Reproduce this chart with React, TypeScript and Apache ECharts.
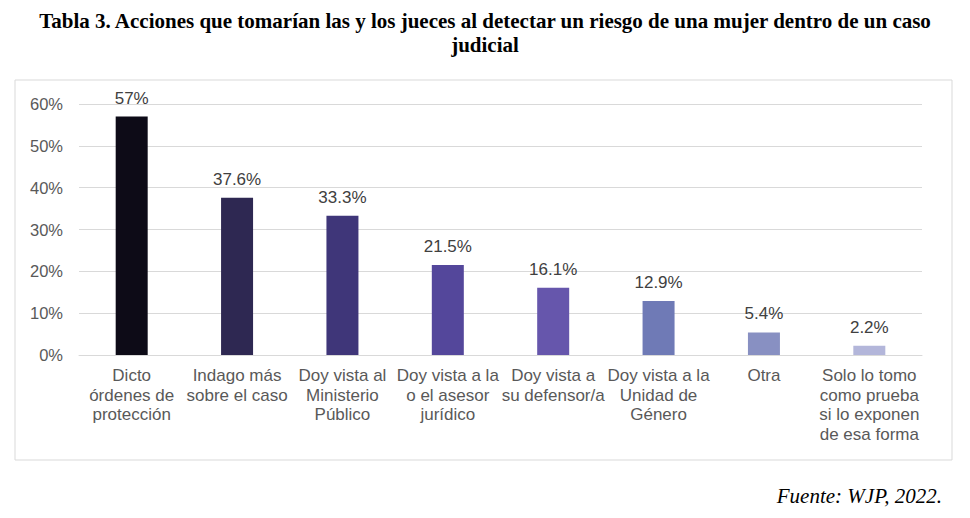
import React, { useEffect, useRef } from "react";
import * as echarts from "echarts";

const titleLines = [
  "Tabla 3. Acciones que tomarían las y los jueces al detectar un riesgo de una mujer dentro de un caso",
  "judicial",
];
const sourceText = "Fuente: WJP, 2022.";
const categories = [
  "Dicto\nórdenes de\nprotección",
  "Indago más\nsobre el caso",
  "Doy vista al\nMinisterio\nPúblico",
  "Doy vista a la\no el asesor\njurídico",
  "Doy vista a\nsu defensor/a",
  "Doy vista a la\nUnidad de\nGénero",
  "Otra",
  "Solo lo tomo\ncomo prueba\nsi lo exponen\nde esa forma",
];
const values = [57, 37.6, 33.3, 21.5, 16.1, 12.9, 5.4, 2.2];
const valueLabels = ["57%", "37.6%", "33.3%", "21.5%", "16.1%", "12.9%", "5.4%", "2.2%"];
const barColors = ["#0d0b17", "#2e2852", "#3f3679", "#54479b", "#6656ac", "#6f7ab6", "#8890c2", "#b3b6da"];

export default function App() {
  const ref = useRef<HTMLDivElement>(null);
  useEffect(() => {
    const chart = echarts.init(ref.current!, null, { renderer: "svg" });
    chart.setOption({
      animation: false,
      backgroundColor: "#ffffff",
      title: {
        text: titleLines.join("\n"),
        left: "center",
        top: 4,
        textStyle: {
          fontFamily: "Liberation Serif",
          fontWeight: "bold",
          fontSize: 21,
          lineHeight: 24,
          color: "#000000",
        },
      },
      graphic: [
        {
          type: "rect",
          shape: { x: 15, y: 80, width: 937, height: 380 },
          style: { fill: "none", stroke: "#d9d9d9", lineWidth: 1 },
          silent: true,
        },
        {
          type: "text",
          right: 28,
          top: 485,
          style: {
            text: sourceText,
            font: "italic 21px 'Liberation Serif'",
            fill: "#000000",
          },
        },
      ],
      grid: { left: 79, right: 48, top: 104, bottom: 163 },
      xAxis: {
        type: "category",
        data: categories,
        axisLine: { lineStyle: { color: "#d9d9d9" } },
        axisTick: { show: false },
        axisLabel: {
          interval: 0,
          fontFamily: "Liberation Sans",
          fontSize: 17,
          lineHeight: 19.5,
          color: "#595959",
          margin: 11,
        },
      },
      yAxis: {
        type: "value",
        min: 0,
        max: 60,
        interval: 10,
        axisLabel: {
          formatter: "{value}%",
          fontFamily: "Liberation Sans",
          fontSize: 16.5,
          color: "#595959",
          margin: 16,
        },
        splitLine: { lineStyle: { color: "#d9d9d9" } },
      },
      series: [
        {
          type: "bar",
          barWidth: 32,
          data: values.map((v, i) => ({ value: v, itemStyle: { color: barColors[i] } })),
          label: {
            show: true,
            position: "top",
            distance: 10,
            fontFamily: "Liberation Sans",
            fontSize: 17,
            color: "#404040",
            formatter: (p: any) => valueLabels[p.dataIndex],
          },
        },
      ],
    });
    return () => chart.dispose();
  }, []);
  return <div ref={ref} style={{ position: "fixed", left: 0, top: 0, width: 970, height: 518 }} />;
}
